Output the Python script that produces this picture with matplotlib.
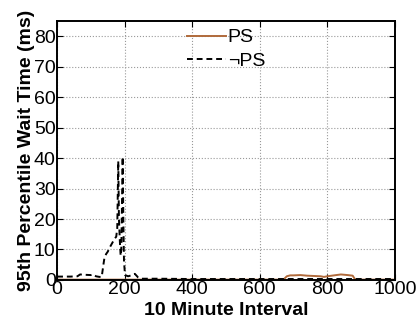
import matplotlib
matplotlib.use("Agg")
import matplotlib.pyplot as plt

plt.rcParams['font.family'] = ['Liberation Sans', 'DejaVu Sans']

# PS series
ps_x = [0, 100, 200, 300, 400, 500, 600, 670, 680, 690, 700, 720, 740, 760, 780, 790, 800, 820, 840, 860, 875, 882, 890, 950, 1000]
ps_y = [0.1, 0.1, 0.1, 0.1, 0.1, 0.1, 0.1, 0.1, 1.2, 1.5, 1.5, 1.6, 1.4, 1.3, 1.2, 1.0, 1.2, 1.5, 1.8, 1.6, 1.4, 0.2, 0.1, 0.1, 0.1]

# not-PS series
nps_x = [0, 20, 40, 60, 68, 80, 100, 107, 115, 125, 132, 137, 140, 145, 150, 155, 160, 165, 170, 175, 178, 181, 183, 186, 188, 190, 192, 194, 196, 198, 201, 210, 220, 230, 240, 250, 300, 400, 500, 600, 700, 800, 900, 1000]
nps_y = [1.1, 1.1, 1.1, 1.2, 1.8, 1.7, 1.6, 1.8, 1.2, 1.0, 1.0, 5.0, 7.2, 8.5, 9.3, 10.5, 11.5, 12.5, 13.5, 14.2, 17.0, 39.0, 20.0, 12.0, 8.0, 10.0, 25.0, 40.4, 20.0, 6.0, 1.6, 1.2, 1.5, 2.0, 0.8, 0.4, 0.4, 0.3, 0.3, 0.3, 0.3, 0.3, 0.3, 0.3]

fig = plt.figure(figsize=(4.17, 3.24), dpi=100)
ax = fig.add_axes([0.137, 0.136, 0.81, 0.799])

ax.plot(ps_x, ps_y, color='#b06a3b', lw=1.4, label='PS')
ax.plot(nps_x, nps_y, color='black', lw=1.4, ls='--', dashes=(3, 2), label='\u00acPS')

ax.set_xlim(0, 1000)
ax.set_ylim(0, 85)
ax.set_xticks([0, 200, 400, 600, 800, 1000])
ax.set_yticks([0, 10, 20, 30, 40, 50, 60, 70, 80])
ax.grid(True, ls=':', color='#999999', lw=0.8)
ax.tick_params(direction='in', top=True, right=True, labelsize=14, length=4, pad=1)
for s in ax.spines.values():
    s.set_linewidth(1.4)

ax.set_xlabel('10 Minute Interval', fontsize=14, fontweight='bold', labelpad=3)
ax.set_ylabel('95th Percentile Wait Time (ms)', fontsize=14, fontweight='bold', labelpad=-1)

leg = ax.legend(loc='upper center', frameon=False, fontsize=14, handlelength=2.0,
                handletextpad=0.1, labelspacing=0.3, borderaxespad=0.0,
                bbox_to_anchor=(0.5, 1.0))

fig.savefig('out.png', dpi=100)
